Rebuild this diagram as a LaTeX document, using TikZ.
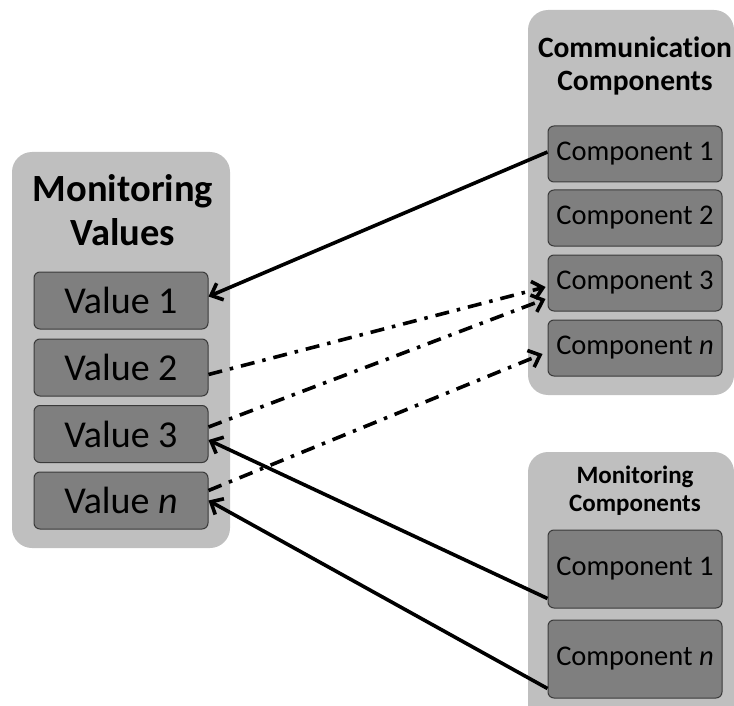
\documentclass[tikz,border=0pt]{standalone}
\usepackage{fontspec}
\setmainfont{Carlito}[Ligatures=NoCommon]
\usetikzlibrary{arrows.meta}

\definecolor{groupgray}{HTML}{BFBFBF}
\definecolor{boxgray}{HTML}{7F7F7F}
\definecolor{edgegray}{HTML}{3A3A3A}

\tikzset{
    group/.style={rectangle, rounded corners=20pt, fill=groupgray, inner sep=0pt},
    item/.style={rectangle, rounded corners=6pt, draw=edgegray, line width=1pt, fill=boxgray, minimum width=174pt, inner sep=0pt},
    link/.style={line width=3.6pt, -{Straight Barb[length=10pt,width=18pt,line width=3.6pt]}},
    maybe/.style={link, dash pattern=on 14pt off 8pt on 3.5pt off 8pt},
}

\begin{document}
\begin{tikzpicture}[x=1pt, y=-1pt]
    \useasboundingbox (0,0) rectangle (734,706);
    % groups
    \node[group, minimum width=218pt, minimum height=396pt](vals)at(121,350){};
    \node[group, minimum width=206pt, minimum height=385pt](comm)at(631,202.5){};
    \node[group, minimum width=206pt, minimum height=280pt](mon)at(631,592){};
    \node[align=center, font=\fontsize{38.5}{44}\bfseries\selectfont](valsT)at(123,210){Monitoring\\Values};
    \node[align=center, font=\fontsize{29.5}{33}\bfseries\selectfont](commT)at(635,66){Communication\\Components};
    \node[align=center, font=\fontsize{25}{28}\bfseries\selectfont](monT)at(635,491){Monitoring\\Components};
    % values
    \begin{scope}[every node/.append style={item, minimum height=57pt, font=\fontsize{38}{40}\selectfont}]
        \node(v1)at(121,300.5){Value 1};
        \node(v2)at(121,367.5){Value 2};
        \node(v3)at(121,434){Value 3};
        \node(vn)at(121,500.5){Value \textit{n}};
    \end{scope}
    % components
    \begin{scope}[every node/.append style={item, minimum height=56pt, font=\fontsize{28.5}{32}\selectfont}]
        \node(c1)at(635,154){Component 1};
        \node(c2)at(635,218){Component 2};
        \node(c3)at(635,283){Component 3};
        \node(cn)at(635,348){Component \textit{n}};
        \node[minimum height=78pt](m1)at(635,569){Component 1};
        \node[minimum height=78pt](mn)at(635,659){Component \textit{n}};
    \end{scope}
    % links
    \draw[link] ([yshift=2pt]c1.west) -- ([yshift=4pt]v1.east);
    \draw[link] ([yshift=10pt]m1.south west) -- ([yshift=-6pt]v3.east);
    \draw[link] ([yshift=10pt]mn.south west) -- (vn.east);
    \draw[maybe] ([yshift=-7pt]v2.east) -- ([xshift=-2pt,yshift=-4pt]c3.west);
    \draw[maybe] ([yshift=7pt]v3.east) -- ([xshift=-2pt,yshift=-16pt]c3.west);
    \draw[maybe] ([yshift=10pt]vn.east) -- ([xshift=-5pt,yshift=-6pt]cn.west);
\end{tikzpicture}
\end{document}
